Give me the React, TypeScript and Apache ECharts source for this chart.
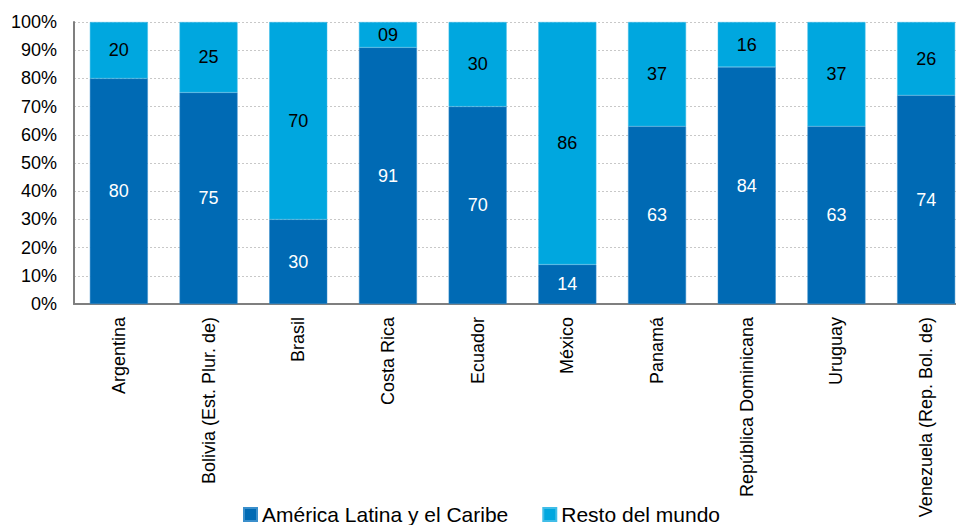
import React, { useEffect, useRef } from "react";
import * as echarts from "echarts";

const categories = [
  "Argentina",
  "Bolivia (Est. Plur. de)",
  "Brasil",
  "Costa Rica",
  "Ecuador",
  "México",
  "Panamá",
  "República Dominicana",
  "Uruguay",
  "Venezuela (Rep. Bol. de)",
];
const latam = [80, 75, 30, 91, 70, 14, 63, 84, 63, 74];
const resto = [20, 25, 70, 9, 30, 86, 37, 16, 37, 26];
const seriesNames = ["América Latina y el Caribe", "Resto del mundo"];

const FONT = "Liberation Sans, Arial, Helvetica, sans-serif";

export default function App() {
  const ref = useRef<HTMLDivElement>(null);
  useEffect(() => {
    if (!ref.current) return;
    const chart = echarts.init(ref.current, null, { renderer: "svg" });
    const pad = (v: number) => (v < 10 ? "0" + v : String(v));
    chart.setOption({
      animation: false,
      textStyle: { fontFamily: FONT },
      legend: {
        data: seriesNames,
        left: 238,
        top: 499,
        itemWidth: 13,
        itemHeight: 13,
        itemGap: 34,
        icon: "rect",
        textStyle: { fontSize: 21, color: "#000", fontFamily: FONT },
      },
      grid: {
        left: 74,
        width: 897,
        top: 22,
        height: 282,
        containLabel: false,
        outerBoundsMode: "none",
      },
      xAxis: {
        type: "category",
        data: categories,
        axisLine: { lineStyle: { color: "#7f7f7f", width: 2 } },
        axisTick: { show: false },
        axisLabel: {
          rotate: 90,
          interval: 0,
          color: "#000",
          fontSize: 18,
          fontFamily: FONT,
          margin: 13,
        },
      },
      yAxis: {
        type: "value",
        min: 0,
        max: 100,
        interval: 10,
        axisLine: { show: true, lineStyle: { color: "#7f7f7f", width: 2 } },
        axisTick: { show: false },
        splitLine: { lineStyle: { color: "#c8c8c8", type: [2, 2], width: 1 } },
        axisLabel: {
          formatter: "{value}%",
          color: "#000",
          fontSize: 18,
          fontFamily: FONT,
          margin: 17,
        },
      },
      series: [
        {
          name: seriesNames[0],
          type: "bar",
          stack: "total",
          barWidth: 58,
          data: latam,
          itemStyle: { color: "#006AB4", borderColor: "#3a8fcc", borderWidth: 0.5 },
          label: {
            show: true,
            position: "inside",
            color: "#fff",
            fontSize: 18,
            fontFamily: FONT,
            formatter: (p: any) => pad(p.value),
          },
        },
        {
          name: seriesNames[1],
          type: "bar",
          stack: "total",
          barWidth: 58,
          data: resto,
          itemStyle: { color: "#00A7DF", borderColor: "#40bde8", borderWidth: 0.5 },
          label: {
            show: true,
            position: "inside",
            color: "#000",
            fontSize: 18,
            fontFamily: FONT,
            formatter: (p: any) => pad(p.value),
          },
        },
      ],
    });
    return () => chart.dispose();
  }, []);
  return (
    <div
      ref={ref}
      style={{ position: "fixed", left: 0, top: 0, width: 956, height: 525, background: "#fff" }}
    />
  );
}
